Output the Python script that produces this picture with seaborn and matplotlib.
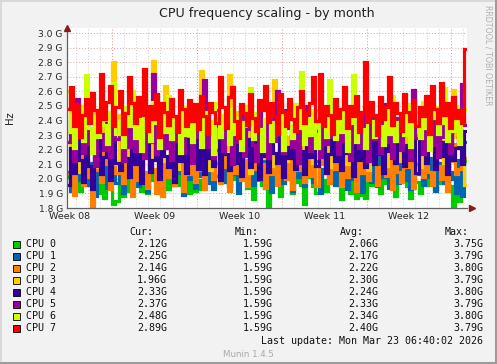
import numpy as np
import pandas as pd
import matplotlib
matplotlib.use("Agg")
import matplotlib.pyplot as plt
import seaborn as sns
from matplotlib.lines import Line2D
from matplotlib.patches import Rectangle

# values in 1/100 GHz, one sample every 6 hours (132 samples over the month)
cpu0 = [201, 196, 208, 199, 192, 205, 198, 210, 203, 197, 190, 206, 187, 200, 195, 183, 185, 202, 188, 199, 192, 204,
        197, 206, 192, 201, 190, 208, 199, 195, 203, 188, 207, 193, 200, 209, 196, 202, 198, 205, 190, 201, 192, 199,
        193, 204, 199, 210, 196, 202, 207, 198, 203, 195, 209, 200, 197, 206, 201, 194, 205, 186, 199, 208, 196, 202,
        181, 199, 206, 197, 188, 203, 200, 209, 190, 198, 204, 196, 183, 201, 207, 195, 190, 203, 199, 192, 205, 198,
        202, 196, 186, 204, 199, 190, 207, 187, 198, 189, 187, 203, 196, 208, 199, 190, 205, 197, 201, 194, 188, 203,
        199, 206, 195, 187, 202, 198, 190, 205, 200, 196, 208, 193, 201, 197, 204, 199, 195, 181, 202, 185, 198, 212]
cpu1 = [205, 192, 214, 199, 208, 221, 196, 211, 203, 188, 216, 200, 209, 194, 219, 205, 197, 212, 190, 207, 215, 198,
        210, 195, 218, 203, 191, 213, 206, 199, 222, 193, 208, 201, 215, 196, 211, 204, 189, 217, 200, 209, 194, 213,
        202, 216, 197, 209, 193, 220, 205, 198, 211, 195, 214, 203, 190, 218, 207, 199, 212, 196, 208, 201, 217, 194,
        206, 191, 213, 200, 219, 197, 208, 204, 192, 215, 201, 210, 195, 221, 203, 198, 212, 190, 207, 216, 199, 211,
        196, 214, 202, 209, 193, 218, 200, 206, 211, 191, 216, 204, 198, 213, 195, 220, 201, 208, 194, 212, 203, 197,
        215, 199, 207, 193, 212, 203, 218, 196, 209, 201, 214, 192, 206, 211, 197, 217, 200, 205, 190, 213, 188, 225]
cpu2 = [203, 217, 189, 208, 222, 196, 213, 201, 181, 219, 206, 198, 224, 210, 193, 215, 204, 220, 197, 211, 216, 188,
        212, 199, 223, 205, 194, 218, 207, 190, 226, 188, 214, 201, 221, 196, 209, 217, 192, 225, 203, 211, 198, 219,
        206, 193, 215, 224, 200, 211, 197, 220, 208, 192, 217, 204, 227, 199, 213, 195, 222, 207, 216, 201, 210, 194,
        218, 203, 211, 196, 226, 209, 200, 215, 193, 221, 206, 213, 198, 224, 202, 217, 195, 210, 220, 204, 197, 214,
        207, 222, 195, 213, 201, 218, 209, 192, 225, 204, 215, 199, 211, 220, 196, 208, 223, 202, 214, 193, 217, 205,
        198, 216, 208, 223, 194, 210, 219, 201, 213, 205, 196, 221, 209, 200, 217, 192, 212, 224, 203, 207, 211, 214]
cpu3 = [260, 218, 236, 205, 229, 241, 212, 233, 221, 247, 208, 226, 239, 215, 231, 280, 210, 244, 223, 235, 206, 228,
        240, 214, 232, 219, 245, 209, 281, 227, 238, 212, 264, 224, 216, 243, 207, 230, 236, 221, 248, 211, 234, 225,
        274, 217, 239, 206, 228, 242, 213, 235, 220, 271, 210, 231, 246, 218, 227, 237, 204, 233, 222, 244, 214, 238,
        226, 209, 268, 234, 219, 241, 212, 229, 236, 207, 245, 223, 216, 238, 230, 211, 247, 225, 218, 240, 208, 232,
        237, 215, 243, 221, 210, 234, 226, 249, 213, 231, 239, 206, 227, 244, 218, 235, 222, 209, 241, 228, 216, 236,
        212, 239, 224, 246, 217, 230, 208, 242, 233, 220, 237, 214, 245, 226, 211, 235, 219, 261, 229, 238, 222, 196]
cpu4 = [196, 221, 204, 232, 213, 198, 226, 209, 193, 218, 231, 203, 215, 224, 199, 237, 211, 206, 228, 214, 201, 222,
        210, 229, 197, 219, 235, 205, 213, 226, 200, 241, 216, 208, 223, 198, 230, 212, 219, 204, 227, 215, 233, 207,
        221, 203, 232, 214, 209, 236, 199, 225, 217, 206, 229, 211, 238, 202, 220, 227, 208, 234, 213, 200, 224, 216,
        205, 230, 218, 211, 237, 201, 222, 214, 228, 207, 233, 219, 203, 226, 215, 239, 209, 221, 231, 204, 217, 228,
        212, 235, 206, 224, 218, 230, 202, 227, 213, 240, 208, 221, 233, 210, 225, 217, 204, 236, 219, 229, 211, 226,
        232, 209, 223, 215, 238, 204, 228, 219, 211, 234, 222, 207, 230, 216, 225, 203, 237, 213, 221, 229, 210, 233]
cpu5 = [225, 238, 212, 255, 229, 218, 241, 224, 235, 209, 246, 231, 220, 238, 215, 243, 227, 234, 212, 248, 222, 236,
        219, 242, 228, 214, 237, 225, 272, 217, 248, 233, 221, 240, 213, 236, 226, 245, 218, 231, 239, 211, 244, 229,
        235, 268, 222, 239, 214, 247, 228, 219, 242, 233, 210, 238, 225, 249, 216, 234, 241, 223, 212, 245, 230, 237,
        214, 243, 226, 260, 231, 218, 247, 235, 222, 240, 211, 236, 228, 250, 219, 242, 233, 215, 246, 224, 238, 229,
        241, 217, 235, 226, 249, 213, 238, 230, 221, 245, 234, 212, 243, 227, 239, 218, 251, 225, 236, 214, 242, 231,
        220, 246, 234, 213, 261, 228, 239, 217, 244, 232, 223, 248, 215, 237, 229, 242, 218, 250, 233, 226, 265, 237]
cpu6 = [232, 244, 221, 238, 250, 226, 271, 235, 218, 243, 229, 252, 237, 224, 246, 266, 231, 240, 222, 249, 236, 260,
        228, 241, 219, 247, 234, 226, 253, 238, 221, 245, 232, 257, 227, 240, 236, 218, 249, 230, 243, 225, 251, 237,
        222, 246, 233, 240, 217, 252, 229, 244, 236, 224, 248, 231, 242, 220, 239, 250, 262, 227, 245, 234, 219, 241,
        248, 226, 239, 231, 253, 220, 244, 237, 228, 251, 235, 273, 224, 242, 230, 247, 221, 238, 245, 229, 268, 236,
        227, 243, 232, 249, 219, 238, 271, 225, 246, 234, 221, 252, 240, 229, 244, 236, 223, 248, 231, 257, 226, 239,
        244, 230, 251, 222, 239, 246, 228, 253, 235, 220, 242, 249, 231, 238, 262, 226, 245, 233, 250, 224, 240, 248]
cpu7 = [248, 263, 236, 251, 229, 244, 255, 238, 259, 247, 232, 272, 241, 253, 264, 236, 249, 260, 231, 245, 270, 252,
        238, 256, 244, 275, 233, 250, 241, 258, 229, 252, 246, 237, 255, 243, 232, 261, 248, 236, 254, 240, 251, 234,
        257, 243, 231, 252, 246, 238, 270, 249, 235, 256, 263, 240, 228, 251, 245, 237, 258, 242, 233, 254, 247, 264,
        239, 252, 243, 231, 258, 246, 236, 255, 241, 233, 249, 260, 238, 245, 252, 270, 240, 272, 236, 250, 244, 231,
        255, 242, 248, 263, 235, 250, 243, 257, 232, 246, 280, 239, 253, 244, 230, 256, 241, 249, 270, 237, 252, 245,
        233, 258, 246, 240, 254, 236, 249, 243, 257, 231, 264, 248, 238, 266, 244, 252, 235, 256, 242, 247, 238, 289]

cpu_names = ["CPU 0", "CPU 1", "CPU 2", "CPU 3", "CPU 4", "CPU 5", "CPU 6", "CPU 7"]
colors = ["#00cc00", "#0066b3", "#ff8000", "#ffcc00", "#330099", "#990099", "#ccff00", "#ff0000"]

# legend table (GHz)
cur_vals = [2.12, 2.25, 2.14, 1.96, 2.33, 2.37, 2.48, 2.89]
min_vals = [1.59, 1.59, 1.59, 1.59, 1.59, 1.59, 1.59, 1.59]
avg_vals = [2.06, 2.17, 2.22, 2.30, 2.24, 2.33, 2.34, 2.40]
max_vals = [3.75, 3.79, 3.80, 3.79, 3.80, 3.79, 3.80, 3.79]

week_labels = ["Week 08", "Week 09", "Week 10", "Week 11", "Week 12"]
y_ticks = [1.8, 1.9, 2.0, 2.1, 2.2, 2.3, 2.4, 2.5, 2.6, 2.7, 2.8, 2.9, 3.0]

# ----------------------------------------------------------
# long-form frame (days since left edge of graph)
# ----------------------------------------------------------
span_days = 33.0
rows = []
for name, vals in zip(cpu_names, [cpu0, cpu1, cpu2, cpu3, cpu4, cpu5, cpu6, cpu7]):
    n = len(vals)
    step = span_days / n
    ext = vals + [vals[-1]]
    for i, v in enumerate(ext):
        rows.append({"day": i * step, "hz": v * 1e7, "cpu": name})
frame = pd.DataFrame(rows)

sns.set_style("white")
plt.rcParams["font.family"] = ["DejaVu Sans"]

W, H = 497, 364
fig = plt.figure(figsize=(W / 100, H / 100), dpi=100, facecolor="#f2f2f2")


def fx(px):
    return px / W


def fy(py):
    return 1 - py / H


ax_left, ax_right, ax_top, ax_bottom = 67, 467, 28, 208
ax = fig.add_axes([fx(ax_left), fy(ax_bottom), fx(ax_right - ax_left), (ax_bottom - ax_top) / H])
ax.set_facecolor("white")

sns.lineplot(
    data=frame, x="day", y="hz", hue="cpu", hue_order=cpu_names,
    palette=colors, drawstyle="steps-post", linewidth=2.3,
    estimator=None, sort=False, legend=False, ax=ax, zorder=3
)
for ln in ax.get_lines():
    ln.set_solid_joinstyle("miter")
    ln.set_solid_capstyle("butt")

y_top = 3.0 + 5 / 145.8
ax.set_xlim(0, span_days)
ax.set_ylim(1.8e9, y_top * 1e9)

# grid: minor = days, major = weeks
first_monday = 3.71
for d in np.arange(first_monday - 3, span_days, 1.0):
    major = abs((d - first_monday) % 7) < 1e-6
    ax.axvline(d, color="#e08c8c" if major else "#d6cccc", lw=0.7,
               ls=(0, (1, 2)), zorder=1)
for v in y_ticks:
    ax.axhline(v * 1e9, color="#e0a0a0", lw=0.7, ls=(0, (1, 2)), zorder=1)

ax.set_yticks([v * 1e9 for v in y_ticks])
ax.set_yticklabels([f"{v:.1f} G" for v in y_ticks], fontsize=6.6)
ax.set_xticks([first_monday - 3.5 + 7 * k for k in range(len(week_labels))])
ax.set_xticklabels(week_labels, fontsize=6.8)
ax.tick_params(length=0, pad=3)
ax.set_xlabel("")
ax.set_ylabel("")

for s in ["top", "right"]:
    ax.spines[s].set_visible(False)
for s in ["left", "bottom"]:
    ax.spines[s].set_color("#606060")
    ax.spines[s].set_linewidth(0.9)
    ax.spines[s].set_zorder(5)

# arrow heads
ax.plot([0], [1.0], marker="^", ms=4, color="#8b1a1a", transform=ax.transAxes, clip_on=False, zorder=6)
ax.plot([1.012], [0], marker=">", ms=4, color="#8b1a1a", transform=ax.transAxes, clip_on=False, zorder=6)

# ----------------------------------------------------------
# texts
# ----------------------------------------------------------
fig.text(fx(267), fy(13), "CPU frequency scaling - by month", ha="center", va="center", fontsize=9.1, color="#202020")
fig.text(fx(10), fy(118), "Hz", rotation=90, ha="center", va="center", fontsize=7.2, color="#202020")
fig.text(fx(488), fy(5), "RRDTOOL / TOBI OETIKER", rotation=270, ha="center", va="top", fontsize=5.7, color="#b0b0b0")

mono = dict(family="DejaVu Sans Mono", fontsize=7.2, color="#101010", va="center")
fig.text(fx(153), fy(232), "Cur:", ha="right", **mono)
fig.text(fx(259), fy(232), "Min:", ha="right", **mono)
fig.text(fx(364), fy(232), "Avg:", ha="right", **mono)
fig.text(fx(469), fy(232), "Max:", ha="right", **mono)

for k, name in enumerate(cpu_names):
    yy = 244.3 + k * 12.0
    fig.add_artist(Rectangle((fx(13), fy(yy + 3.5)), fx(7), 7 / H, transform=fig.transFigure,
                             facecolor=colors[k], edgecolor="black", lw=0.6))
    fig.text(fx(26.5), fy(yy), name, ha="left", **mono)
    fig.text(fx(167), fy(yy), f"{cur_vals[k]:.2f}G", ha="right", **mono)
    fig.text(fx(273), fy(yy), f"{min_vals[k]:.2f}G", ha="right", **mono)
    fig.text(fx(378), fy(yy), f"{avg_vals[k]:.2f}G", ha="right", **mono)
    fig.text(fx(483), fy(yy), f"{max_vals[k]:.2f}G", ha="right", **mono)

fig.text(fx(483), fy(340.7), "Last update: Mon Mar 23 06:40:02 2026", ha="right", **mono)
fig.text(fx(248.5), fy(354.7), "Munin 1.4.5", ha="center", va="center", fontsize=6.2, color="#a8a8a8")

# image frame: light top/left, dark bottom/right
fig.add_artist(Line2D([0, 1], [fy(0.5), fy(0.5)], transform=fig.transFigure, color="#d4d4d4", lw=1.2))
fig.add_artist(Line2D([fx(0.5), fx(0.5)], [0, 1], transform=fig.transFigure, color="#d4d4d4", lw=1.2))
fig.add_artist(Line2D([0, 1], [fy(362.5), fy(362.5)], transform=fig.transFigure, color="#9c9c9c", lw=2.2))
fig.add_artist(Line2D([fx(495.5), fx(495.5)], [0, 1], transform=fig.transFigure, color="#9c9c9c", lw=2.2))

fig.savefig("out.png", dpi=100, facecolor=fig.get_facecolor())
